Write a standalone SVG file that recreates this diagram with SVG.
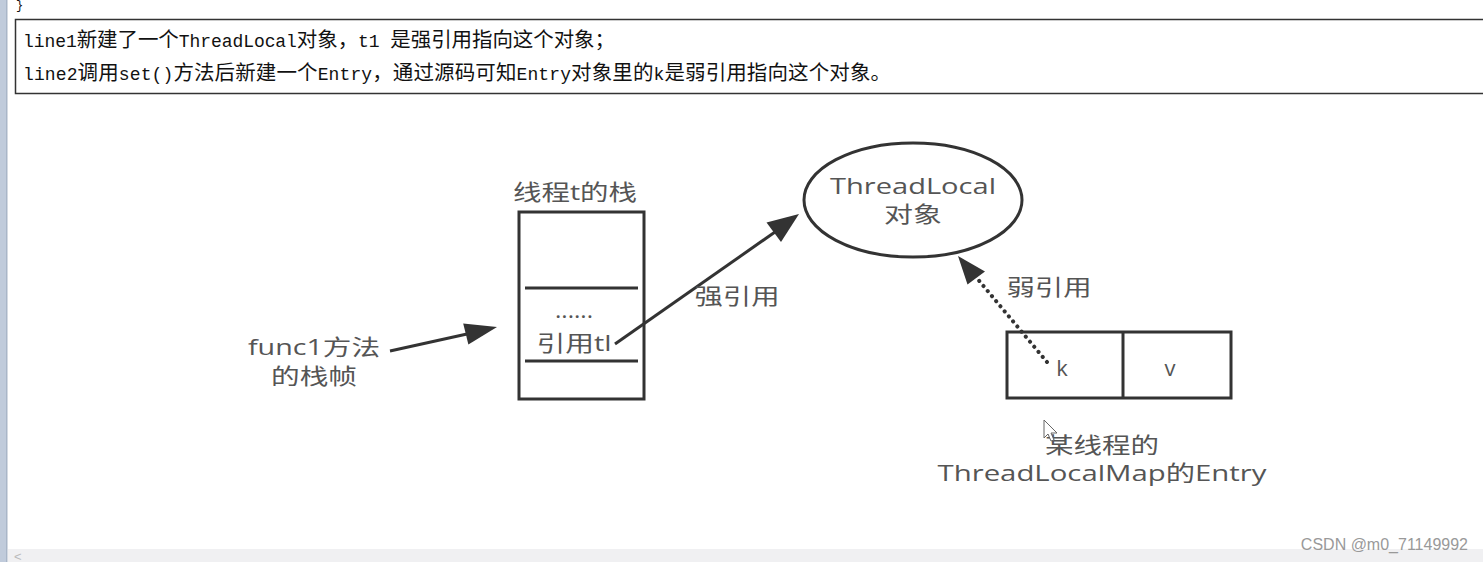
<svg xmlns="http://www.w3.org/2000/svg" width="1483" height="562" viewBox="0 0 1483 562">
<style>
.note{font-family:"Liberation Mono","Noto Sans CJK SC",monospace;font-size:18px;fill:#111}
.c{font-size:20.5px}
.lbl{font-family:"Open Sans","Noto Sans CJK SC",sans-serif;font-size:22px;fill:#555;text-anchor:middle}
.shape{fill:none;stroke:#333;stroke-width:3}
.conn{stroke:#333;stroke-width:3;fill:none}
.head{fill:#333}
</style>
<rect x="0" y="0" width="1483" height="562" fill="#fff"/>
<rect x="0" y="0" width="7" height="562" fill="#c0cbdb"/>
<rect x="6" y="0" width="1.5" height="562" fill="#a9b6c8"/>
<rect x="8" y="549" width="1475" height="13" fill="#f0f0f2"/>
<text x="14" y="561" font-family="Liberation Sans,sans-serif" font-size="13" fill="#bbb">&lt;</text>
<text x="16" y="9" font-family="Liberation Mono,monospace" font-size="12" fill="#111">}</text>

<g id="note">
<rect x="15.5" y="19.5" width="1470" height="74" fill="#fff" stroke="#333" stroke-width="1.5"/>
<text class="note" x="23" y="47" textLength="592" lengthAdjust="spacing">line1<tspan class="c">新建了一个</tspan>ThreadLocal<tspan class="c">对象，</tspan>t1 <tspan class="c">是强引用指向这个对象；</tspan></text>
<text class="note" x="23" y="80" textLength="868" lengthAdjust="spacing">line2<tspan class="c">调用</tspan>set()<tspan class="c">方法后新建一个</tspan>Entry<tspan class="c">，通过源码可知</tspan>Entry<tspan class="c">对象里的</tspan>k<tspan class="c">是弱引用指向这个对象。</tspan></text>
</g>

<g id="stack">
<text class="lbl" x="575" y="200" textLength="124" lengthAdjust="spacingAndGlyphs">线程t的栈</text>
<rect class="shape" x="519" y="212" width="125" height="187"/>
<line class="shape" x1="525" y1="288" x2="638" y2="288"/>
<line class="shape" x1="525" y1="361" x2="638" y2="361"/>
<text class="lbl" x="574" y="318" font-size="16" textLength="38" lengthAdjust="spacingAndGlyphs">......</text>
<text class="lbl" x="574" y="351" textLength="75" lengthAdjust="spacingAndGlyphs">引用tl</text>
</g>

<g id="frame">
<text class="lbl" x="314" y="355" textLength="132" lengthAdjust="spacingAndGlyphs">func1方法</text>
<text class="lbl" x="314" y="384" textLength="86" lengthAdjust="spacingAndGlyphs">的栈帧</text>
</g>

<g id="threadlocal">
<ellipse class="shape" cx="913" cy="200" rx="109" ry="57"/>
<text class="lbl" x="913" y="194" textLength="166" lengthAdjust="spacingAndGlyphs">ThreadLocal</text>
<text class="lbl" x="913" y="222" textLength="58" lengthAdjust="spacingAndGlyphs">对象</text>
</g>

<g id="entry">
<rect class="shape" x="1007" y="332" width="224" height="66"/>
<line class="shape" x1="1123" y1="332" x2="1123" y2="398"/>
<text class="lbl" x="1062" y="376">k</text>
<text class="lbl" x="1170" y="376">v</text>
<text class="lbl" x="1102" y="453" textLength="114" lengthAdjust="spacingAndGlyphs">某线程的</text>
<text class="lbl" x="1102" y="481" textLength="329" lengthAdjust="spacingAndGlyphs">ThreadLocalMap的Entry</text>
</g>

<g id="connectors">
<line class="conn" x1="390" y1="351" x2="467" y2="334"/>
<polygon class="head" points="497,327 468.4,344.5 463.2,323.6"/>
<line class="conn" x1="615" y1="344" x2="775" y2="232"/>
<polygon class="head" points="799,214 781,242 766.5,222.5"/>
<line x1="1047" y1="362" x2="976" y2="277" stroke="#333" stroke-width="4" stroke-linecap="round" stroke-dasharray="0.1 6.5"/>
<polygon class="head" points="958,256 985,271.5 967.5,284.5"/>
<text class="lbl" x="737" y="304" textLength="85" lengthAdjust="spacingAndGlyphs">强引用</text>
<text class="lbl" x="1049" y="295" textLength="85" lengthAdjust="spacingAndGlyphs">弱引用</text>
</g>

<path d="M1044,420 L1044,438 L1048,434 L1051,441 L1054,440 L1051,433 L1057,433 Z" fill="#fff" stroke="#666" stroke-width="1"/>
<text x="1468" y="550" text-anchor="end" font-family="Liberation Sans,sans-serif" font-size="16" fill="#999">CSDN @m0_71149992</text>
</svg>
